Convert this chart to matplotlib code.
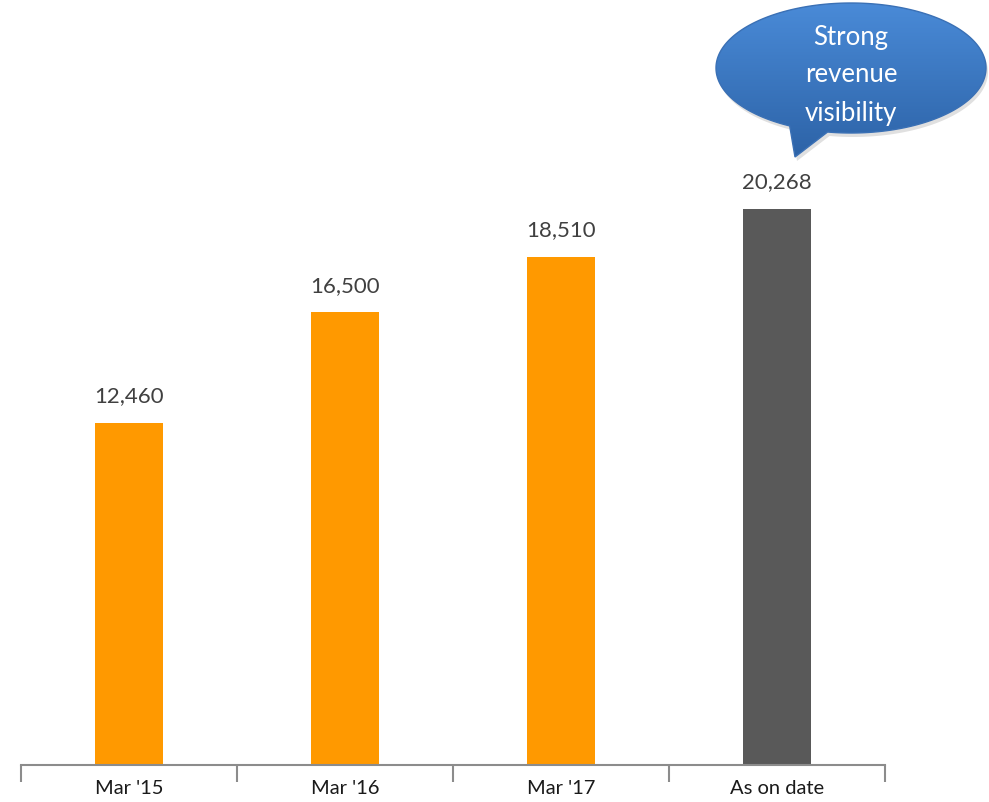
import numpy as np
import matplotlib.pyplot as plt
from matplotlib.path import Path
from matplotlib.patches import PathPatch
from matplotlib.colors import LinearSegmentedColormap

categories = ["Mar '15", "Mar '16", "Mar '17", "As on date"]
values = [12460, 16500, 18510, 20268]
bar_colors = ["#FF9900", "#FF9900", "#FF9900", "#595959"]
callout_lines = ["Strong", "revenue", "visibility"]

plt.rcParams['font.family'] = ['Lato', 'DejaVu Sans']

W, H = 989, 802
fig = plt.figure(figsize=(W / 100, H / 100), dpi=100)

# main bar axes: baseline at 765 px from top, category pitch 216 px
ax = fig.add_axes([21 / W, 37 / H, 864 / W, 765 / H])
x = np.arange(len(categories))
ax.bar(x, values, width=0.315, color=bar_colors, zorder=2)
for xi, v in zip(x, values):
    ax.text(xi, v + 600, f"{v:,}", ha='center', va='bottom',
            fontsize=16, color='#404040')

ax.set_xlim(-0.5, len(categories) - 0.5)
ax.set_ylim(0, 27870)
ax.set_yticks([])
for s in ['top', 'right', 'left']:
    ax.spines[s].set_visible(False)
ax.spines['bottom'].set_color('#8c8c8c')
ax.spines['bottom'].set_linewidth(1.5)
ax.set_xticks(x)
ax.set_xticklabels(categories, fontsize=14.5, color='#1a1a1a')
ax.tick_params(axis='x', which='major', length=0, pad=11)
ax.set_xticks(np.arange(-0.5, len(categories)), minor=True)
ax.tick_params(axis='x', which='minor', length=12, width=1.5,
               color='#8c8c8c', direction='out')

# speech bubble overlay in pixel coordinates
ov = fig.add_axes([0, 0, 1, 1])
ov.set_xlim(0, W)
ov.set_ylim(H, 0)
ov.axis('off')

cx, cy, rx, ry = 851, 68, 135, 65
t_start = np.deg2rad(100)   # where the tail leaves the ellipse (right side)
t_end = np.deg2rad(117)     # where the tail rejoins (left side)
ts = np.linspace(t_end, t_start + 2 * np.pi, 300)
ex = cx + rx * np.cos(ts)
ey = cy + ry * np.sin(ts)
verts = list(zip(ex, ey))
verts.append((795, 157))
verts.append(verts[0])
codes = [Path.MOVETO] + [Path.LINETO] * (len(verts) - 2) + [Path.CLOSEPOLY]
bubble = Path(verts, codes)

# soft shadow
shadow = PathPatch(Path(np.array(verts) + [2, 4], codes),
                   facecolor='#000000', alpha=0.12, edgecolor='none')
ov.add_patch(shadow)

cmap = LinearSegmentedColormap.from_list('bub', ['#4A8BD8', '#2C62A6'])
grad = np.linspace(0, 1, 256).reshape(-1, 1)
im = ov.imshow(grad, cmap=cmap, extent=[cx - rx - 2, cx + rx + 2, 160, cy - ry - 2],
               aspect='auto', zorder=3)
patch = PathPatch(bubble, facecolor='none', edgecolor='#3a70b5', lw=1, zorder=4)
ov.add_patch(patch)
im.set_clip_path(patch)
ov.set_xlim(0, W)
ov.set_ylim(H, 0)

for i, line in enumerate(callout_lines):
    ov.text(851, 37 + 38 * i, line, ha='center', va='center',
            fontsize=18.5, color='white', zorder=5)

fig.savefig('out.png', dpi=100)
